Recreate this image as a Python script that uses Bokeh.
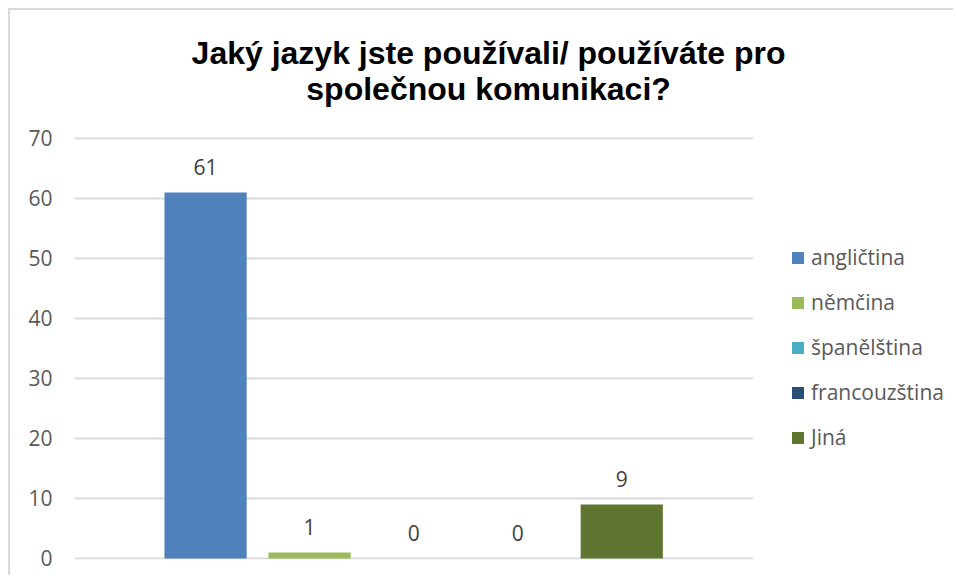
import numpy as np
from bokeh.plotting import figure
from bokeh.models import Range1d, Legend, LegendItem, Label, ColumnDataSource, FixedTicker
from bokeh.core.properties import value
from bokeh.embed import file_html
from bokeh.resources import INLINE

title_line1 = "Jaký jazyk jste používali/ používáte pro"
title_line2 = "společnou komunikaci?"
languages = ["angličtina", "němčina", "španělština", "francouzština", "Jiná"]
counts = [61, 1, 0, 0, 9]
colors = ["#4F81BD", "#9BBB59", "#4BACC6", "#2C4D75", "#5F7530"]
y_ticks = [0, 10, 20, 30, 40, 50, 60, 70]

pad = 1.26  # category padding around the bar group (in bar-slot units)
n = len(languages)
x_start = -pad
x_grid_end = n - 1 + pad

p = figure(width=945, height=567, output_backend="svg", toolbar_location=None,
           x_range=Range1d(x_start, 7.16), y_range=Range1d(-0.17, 91.33),
           min_border_left=64, min_border_right=5, min_border_bottom=18,
           min_border_top=0,
           styles={"border-left": "2px solid #d9d9d9", "border-top": "2px solid #d9d9d9",
                   "margin-left": "8px", "margin-top": "8px"})
p.outline_line_color = None
p.background_fill_color = "white"
p.border_fill_color = "white"

p.xaxis.visible = False
p.xgrid.visible = False
p.ygrid.visible = False
p.yaxis.ticker = FixedTicker(ticks=y_ticks)
p.yaxis.axis_line_color = None
p.yaxis.major_tick_line_color = None
p.yaxis.minor_tick_line_color = None
p.yaxis.major_tick_out = 0
p.yaxis.major_label_standoff = 22
p.yaxis.major_label_text_font = "Open Sans"
p.yaxis.major_label_text_font_size = "21px"
p.yaxis.major_label_text_color = "#595959"

# horizontal gridlines limited to the category area
grid_src = ColumnDataSource(dict(x0=[x_start] * len(y_ticks), x1=[x_grid_end] * len(y_ticks),
                                 y=y_ticks))
p.segment(x0="x0", x1="x1", y0="y", y1="y", source=grid_src,
          line_color="#d9d9d9", line_width=2)

xs = np.arange(n)
items = []
for i, (lang, cnt, col) in enumerate(zip(languages, counts, colors)):
    src = ColumnDataSource(dict(x=[xs[i]], top=[cnt], lbl=[str(cnt)]))
    r = p.vbar(x="x", top="top", bottom=0, width=0.79, source=src,
               fill_color=col, line_color=None)
    p.text(x="x", y="top", text="lbl", source=src, text_align="center",
           text_baseline="middle", y_offset=-25, text_font=value("Open Sans"),
           text_font_size="21px", text_color="#404040")
    items.append(LegendItem(label=lang, renderers=[r]))

legend = Legend(items=items, location=(716, 108), orientation="vertical",
                glyph_width=15, glyph_height=15, label_height=20, spacing=17,
                label_standoff=6, padding=0, margin=0,
                label_text_font="Open Sans", label_text_font_size="21px",
                label_text_color="#595959", border_line_color=None,
                background_fill_alpha=0)
p.add_layout(legend, "center")

# title, two centred lines above the plot area
title_x = 2.72
for txt, ty in [(title_line1, 84.33), (title_line2, 78.33)]:
    p.add_layout(Label(x=title_x, y=ty, text=txt, text_align="center",
                       text_baseline="middle", text_font="Liberation Sans",
                       text_font_style="bold", text_font_size="32px",
                       text_color="black"))

open("out.html", "w").write(file_html(p, INLINE))
